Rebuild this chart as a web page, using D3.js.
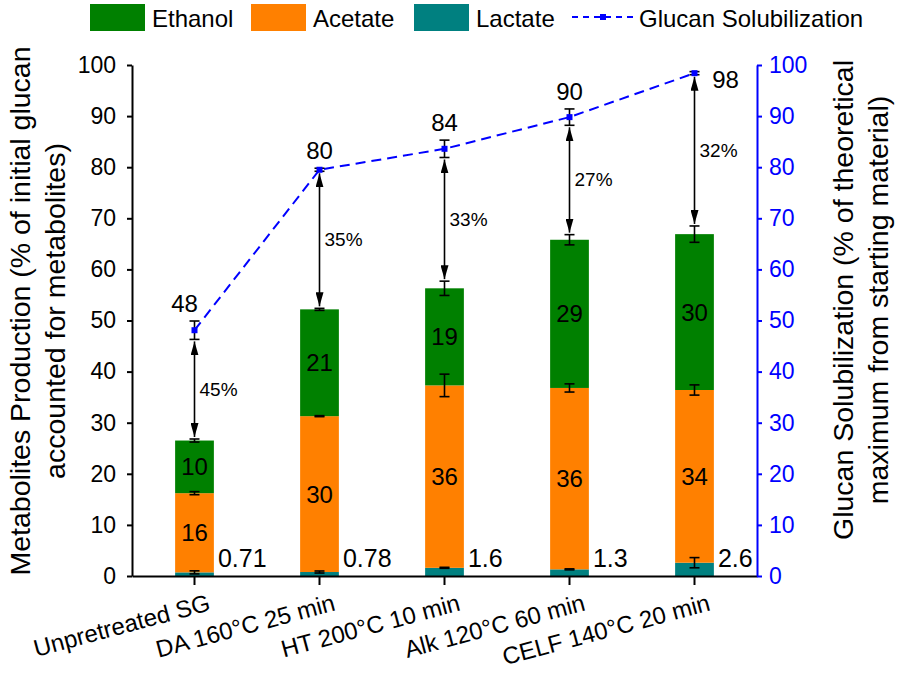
<!DOCTYPE html>
<html>
<head>
<meta charset="utf-8">
<script src="https://cdn.jsdelivr.net/npm/d3@7"></script>
<style>
  body { margin: 0; background: #fff; }
  svg text { font-family: "Liberation Sans", Arial, sans-serif; }
</style>
</head>
<body>
<svg id="chart"></svg>
<script>
const categories = ["Unpretreated SG", "DA 160°C 25 min", "HT 200°C 10 min", "Alk 120°C 60 min", "CELF 140°C 20 min"];

// stacked metabolites (bottom to top)
const lactate = [0.71, 0.78, 1.6, 1.3, 2.6];
const acetate = [15.5, 30.5, 35.7, 35.5, 33.8];
const ethanol = [10.3, 20.9, 19.0, 29.0, 30.5];
const lactateErr = [0.3, 0.2, 0.1, 0.1, 1.0];
const acetateErr = [0.3, 0.1, 2.2, 0.8, 1.0];
const ethanolErr = [0.3, 0.2, 1.4, 1.0, 1.6];

const lactateLabels = ["0.71", "0.78", "1.6", "1.3", "2.6"];
const acetateLabels = ["16", "30", "36", "36", "34"];
const ethanolLabels = ["10", "21", "19", "29", "30"];

// glucan solubilization (right axis)
const glucan = [48.1, 79.5, 83.6, 89.8, 98.4];
const glucanErr = [1.8, 0.3, 1.7, 1.6, 0.3];
const glucanLabels = ["48", "80", "84", "90", "98"];
const gapLabels = ["45%", "35%", "33%", "27%", "32%"];

const leftTicks = [0, 10, 20, 30, 40, 50, 60, 70, 80, 90, 100];

const width = 898;
const height = 674;

const svg = d3.select("#chart")
    .attr("width", width)
    .attr("height", height);

const xScale = d3.scaleBand()
    .domain(categories)
    .range([132, 757])
    .paddingInner(0.69)
    .paddingOuter(0.345);

const yScale = d3.scaleLinear()
    .domain([0, 100])
    .range([576, 65]);

const y2Scale = d3.scaleLinear()
    .domain([0, 100])
    .range([576, 65]);

const cx = c => xScale(c) + xScale.bandwidth() / 2;

const rows = categories.map((c, i) => ({
    cat: c, Lactate: lactate[i], Acetate: acetate[i], Ethanol: ethanol[i]
}));
const keys = ["Lactate", "Acetate", "Ethanol"];
const colors = { Ethanol: "#008000", Acetate: "#ff8000", Lactate: "#008080" };
const errs = { Lactate: lactateErr, Acetate: acetateErr, Ethanol: ethanolErr };
const stacked = d3.stack().keys(keys)(rows);

// bars
svg.append("g")
    .selectAll("g")
    .data(stacked)
    .enter()
    .append("g")
    .attr("fill", d => colors[d.key])
    .selectAll("rect")
    .data(d => d)
    .enter()
    .append("rect")
    .attr("x", d => xScale(d.data.cat))
    .attr("y", d => yScale(d[1]))
    .attr("width", xScale.bandwidth())
    .attr("height", d => yScale(d[0]) - yScale(d[1]));

// error bars on each segment
const errG = svg.append("g").attr("stroke", "#000").attr("stroke-width", 1.6);
stacked.forEach(layer => {
    layer.forEach((d, i) => {
        const e = errs[layer.key][i];
        const x = cx(d.data.cat);
        const y1 = yScale(d[1] + e), y0 = yScale(d[1] - e);
        errG.append("line").attr("x1", x).attr("x2", x).attr("y1", y1).attr("y2", y0);
        errG.append("line").attr("x1", x - 5).attr("x2", x + 5).attr("y1", y1).attr("y2", y1);
        errG.append("line").attr("x1", x - 5).attr("x2", x + 5).attr("y1", y0).attr("y2", y0);
    });
});

// segment labels
const labelG = svg.append("g").attr("font-size", 24).attr("fill", "#000");
stacked.forEach(layer => {
    if (layer.key === "Lactate") return;
    const labs = layer.key === "Acetate" ? acetateLabels : ethanolLabels;
    layer.forEach((d, i) => {
        labelG.append("text")
            .attr("x", cx(d.data.cat))
            .attr("y", yScale((d[0] + d[1]) / 2))
            .attr("text-anchor", "middle")
            .attr("dominant-baseline", "central")
            .text(labs[i]);
    });
});
categories.forEach((c, i) => {
    labelG.append("text")
        .attr("x", xScale(c) + xScale.bandwidth() + 4)
        .attr("y", yScale(0) - 9)
        .attr("font-size", 25)
        .text(lactateLabels[i]);
});

// double arrows between bar top and glucan point
const defs = svg.append("defs");
defs.append("marker")
    .attr("id", "arrowEnd")
    .attr("viewBox", "0 0 14 8")
    .attr("refX", 14).attr("refY", 4)
    .attr("markerWidth", 14).attr("markerHeight", 8)
    .attr("markerUnits", "userSpaceOnUse")
    .attr("orient", "auto")
    .append("path").attr("d", "M0,0 L14,4 L0,8 Z").attr("fill", "#000");
defs.append("marker")
    .attr("id", "arrowStart")
    .attr("viewBox", "0 0 14 8")
    .attr("refX", 0).attr("refY", 4)
    .attr("markerWidth", 14).attr("markerHeight", 8)
    .attr("markerUnits", "userSpaceOnUse")
    .attr("orient", "auto")
    .append("path").attr("d", "M14,0 L0,4 L14,8 Z").attr("fill", "#000");

const totals = categories.map((c, i) => lactate[i] + acetate[i] + ethanol[i]);
categories.forEach((c, i) => {
    const x = cx(c);
    const top = y2Scale(glucan[i] - glucanErr[i]) + 2;
    const bot = yScale(totals[i] + ethanolErr[i]) - 2;
    svg.append("line")
        .attr("x1", x).attr("x2", x)
        .attr("y1", top).attr("y2", bot)
        .attr("stroke", "#000").attr("stroke-width", 1.6)
        .attr("marker-start", "url(#arrowStart)")
        .attr("marker-end", "url(#arrowEnd)");
    svg.append("text")
        .attr("x", x + 5)
        .attr("y", (top + bot) / 2)
        .attr("dominant-baseline", "central")
        .attr("font-size", 19)
        .text(gapLabels[i]);
});

// glucan line
const line = d3.line()
    .x((d, i) => cx(categories[i]))
    .y(d => y2Scale(d));
svg.append("path")
    .datum(glucan)
    .attr("d", line)
    .attr("fill", "none")
    .attr("stroke", "#0000ff")
    .attr("stroke-width", 2)
    .attr("stroke-dasharray", "10,6");

const gErrG = svg.append("g").attr("stroke", "#000").attr("stroke-width", 1.6);
glucan.forEach((v, i) => {
    const x = cx(categories[i]);
    const y1 = y2Scale(v + glucanErr[i]), y0 = y2Scale(v - glucanErr[i]);
    gErrG.append("line").attr("x1", x).attr("x2", x).attr("y1", y1).attr("y2", y0);
    gErrG.append("line").attr("x1", x - 5).attr("x2", x + 5).attr("y1", y1).attr("y2", y1);
    gErrG.append("line").attr("x1", x - 5).attr("x2", x + 5).attr("y1", y0).attr("y2", y0);
});
svg.append("g")
    .selectAll("rect")
    .data(glucan)
    .enter()
    .append("rect")
    .attr("x", (d, i) => cx(categories[i]) - 3)
    .attr("y", d => y2Scale(d) - 3)
    .attr("width", 6)
    .attr("height", 6)
    .attr("fill", "#0000ff");

glucan.forEach((v, i) => {
    const last = i === glucan.length - 1;
    svg.append("text")
        .attr("x", last ? cx(categories[i]) + 31 : cx(categories[i]) + (i === 0 ? -10 : 0))
        .attr("y", last ? y2Scale(v) + 6 : y2Scale(v + glucanErr[i]) - 9)
        .attr("text-anchor", "middle")
        .attr("dominant-baseline", last ? "central" : "auto")
        .attr("font-size", 24)
        .text(glucanLabels[i]);
});

// axes
const xAxis = svg.append("g")
    .attr("transform", `translate(0, ${yScale(0)})`)
    .call(d3.axisBottom(xScale).tickSize(9).tickSizeOuter(0));
xAxis.select(".domain").attr("stroke-width", 2);
xAxis.selectAll(".tick line").attr("stroke-width", 2);
xAxis.selectAll(".tick text")
    .attr("font-size", 24)
    .attr("text-anchor", "end")
    .attr("dominant-baseline", "auto")
    .attr("dy", null)
    .attr("y", 0)
    .attr("transform", "translate(17, 34) rotate(-15)");

const yAxis = svg.append("g")
    .attr("transform", `translate(132, 0)`)
    .call(d3.axisLeft(yScale).tickValues(leftTicks).tickSize(5).tickPadding(11).tickSizeOuter(0));
yAxis.select(".domain").attr("stroke-width", 2);
yAxis.selectAll(".tick line").attr("stroke-width", 2);
yAxis.selectAll(".tick text").attr("font-size", 23);

const y2Axis = svg.append("g")
    .attr("transform", `translate(757, 0)`)
    .call(d3.axisRight(y2Scale).tickValues(leftTicks).tickSize(5).tickPadding(7).tickSizeOuter(0));
y2Axis.select(".domain").attr("stroke", "#0000ff").attr("stroke-width", 2);
y2Axis.selectAll(".tick line").attr("stroke", "#0000ff").attr("stroke-width", 2);
y2Axis.selectAll(".tick text").attr("fill", "#0000ff").attr("font-size", 23);

// axis titles
const leftTitle = svg.append("text")
    .attr("transform", "translate(20, 311) rotate(-90)")
    .attr("text-anchor", "middle")
    .attr("font-size", 28.5);
leftTitle.append("tspan").attr("x", 0).attr("y", 0).attr("dominant-baseline", "central")
    .text("Metabolites Production (% of initial glucan");
leftTitle.append("tspan").attr("x", 0).attr("y", 35).attr("dominant-baseline", "central")
    .text("accounted for metabolites)");

const rightTitle = svg.append("text")
    .attr("transform", "translate(843, 300) rotate(-90)")
    .attr("text-anchor", "middle")
    .attr("font-size", 28.5);
rightTitle.append("tspan").attr("x", 0).attr("y", 0).attr("dominant-baseline", "central")
    .text("Glucan Solubilization (% of theoretical");
rightTitle.append("tspan").attr("x", 0).attr("y", 35).attr("dominant-baseline", "central")
    .text("maximum from starting material)");

// legend
const legendItems = ["Ethanol", "Acetate", "Lactate"];
const legendX = [90, 251, 414];
legendItems.forEach((name, i) => {
    svg.append("rect")
        .attr("x", legendX[i]).attr("y", 4)
        .attr("width", 55).attr("height", 27)
        .attr("fill", colors[name]);
    svg.append("text")
        .attr("x", legendX[i] + 62).attr("y", 27)
        .attr("font-size", 24)
        .text(name);
});
svg.append("line")
    .attr("x1", 572).attr("x2", 634).attr("y1", 17).attr("y2", 17)
    .attr("stroke", "#0000ff").attr("stroke-width", 2)
    .attr("stroke-dasharray", "6,5");
svg.append("rect")
    .attr("x", 600).attr("y", 14).attr("width", 6).attr("height", 6)
    .attr("fill", "#0000ff");
svg.append("text")
    .attr("x", 639).attr("y", 27)
    .attr("font-size", 24)
    .text("Glucan Solubilization");
</script>
</body>
</html>
